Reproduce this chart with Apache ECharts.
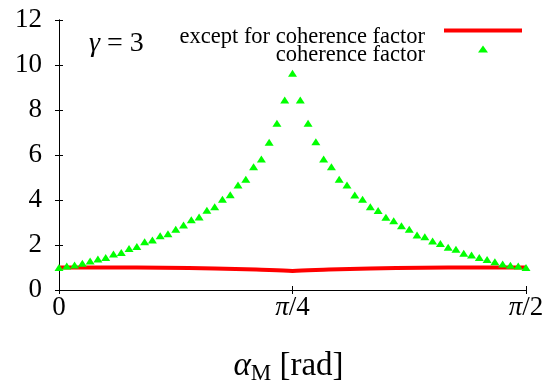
<!DOCTYPE html>
<html><head><meta charset="utf-8">
<script src="https://cdn.jsdelivr.net/npm/echarts@6/dist/echarts.min.js"></script>
<style>html,body{margin:0;padding:0;background:#fff}#c{width:553px;height:383px}</style>
</head><body><div id="c"></div>
<script>
// alpha_M in degrees (0 .. 90 = pi/2)
const alphaDeg = [0,1.5,3,4.5,6,7.5,9,10.5,12,13.5,15,16.5,18,19.5,21,22.5,24,25.5,27,28.5,30,31.5,33,34.5,36,37.5,39,40.5,42,43.5,45,46.5,48,49.5,51,52.5,54,55.5,57,58.5,60,61.5,63,64.5,66,67.5,69,70.5,72,73.5,75,76.5,78,79.5,81,82.5,84,85.5,87,88.5,90];
const coherence = [1.00,1.07,1.11,1.19,1.29,1.38,1.45,1.60,1.67,1.85,1.93,2.15,2.22,2.41,2.50,2.70,2.89,3.12,3.25,3.55,3.70,4.03,4.23,4.67,4.92,5.48,5.82,6.57,7.41,8.44,9.63,
  8.44,7.41,6.59,5.82,5.48,4.92,4.67,4.22,4.03,3.70,3.53,3.23,3.08,2.86,2.70,2.44,2.37,2.18,2.07,1.90,1.81,1.63,1.56,1.44,1.36,1.26,1.16,1.10,1.07,1.00];
const exceptAlpha = [0,10,20,30,38,45,52,60,70,80,90];
const exceptVals = [1.00,1.00,0.99,0.96,0.91,0.85,0.91,0.96,0.99,1.00,1.00];
const xTickLabels = {0:'{n|0}',45:'{p|π}{n|/4}',90:'{p|π}{n|/2}'};
const yTicks = [0,2,4,6,8,10,12];

const F = 'Liberation Serif';
const chart = echarts.init(document.getElementById('c'));
const axisLine = {show:true, lineStyle:{color:'#000', width:1}};
const tick = {show:true, inside:true, length:4, lineStyle:{color:'#000', width:1}};
const serif = {fontFamily:F, fontSize:27, color:'#000'};
chart.setOption({
  animation:false,
  backgroundColor:'#fff',
  textStyle:{fontFamily:F},
  title:{text:'{g|γ}{n| = 3}', left:89, top:30, padding:0,
    textStyle:{fontFamily:F, fontSize:28, fontWeight:'normal', color:'#000',
      rich:{g:{fontFamily:F, fontSize:28, fontStyle:'italic', color:'#000'},
            n:{fontFamily:F, fontSize:28, color:'#000'}}}},
  legend:[
    {data:[{name:'except for coherence factor', icon:'rect'}], right:31, top:26, orient:'vertical', align:'right', padding:0,
     itemWidth:78, itemHeight:4, selectedMode:false, formatter:'{t|{name}}',
     textStyle:{fontFamily:F, fontSize:22.5, color:'#000',
       rich:{t:{fontFamily:F, fontSize:22.5, color:'#000', padding:[14,14,0,0]}}}},
    {data:[{name:'coherence factor', icon:'triangle'}], right:65, top:43.5, orient:'vertical', align:'right', padding:0,
     itemWidth:10, itemHeight:7, selectedMode:false, formatter:'{t|{name}}',
     textStyle:{fontFamily:F, fontSize:22.5, color:'#000',
       rich:{t:{fontFamily:F, fontSize:22.5, color:'#000', padding:[12,48,0,0]}}}}
  ],
  grid:{left:59, right:27, top:20, bottom:93, containLabel:false, outerBoundsMode:'none'},
  xAxis:[
    {type:'value', min:0, max:90, interval:45, position:'bottom',
     axisLine, axisTick:tick, splitLine:{show:false},
     axisLabel:{margin:4, fontFamily:F, fontSize:27, color:'#000',
       formatter:v=>xTickLabels[v]!==undefined?xTickLabels[v]:'',
       rich:{p:{fontFamily:F, fontSize:27, fontStyle:'italic', color:'#000'}, n:serif}},
     name:'{a|α}{s|M}{n| [rad]}', nameLocation:'middle', nameGap:58,
     nameTextStyle:{fontFamily:F, fontSize:33, color:'#000',
       rich:{a:{fontFamily:F, fontSize:33, fontStyle:'italic', color:'#000'},
             n:{fontFamily:F, fontSize:33, color:'#000', padding:[0,8,0,0]},
             s:{fontFamily:F, fontSize:23, color:'#000', padding:[14,0,0,0], verticalAlign:'bottom'}}}},
    {type:'value', min:0, max:90, interval:45, position:'top',
     axisLine, axisTick:tick, axisLabel:{show:false}, splitLine:{show:false}}
  ],
  yAxis:[
    {type:'value', min:0, max:12, interval:2, position:'left',
     axisLine, axisTick:tick, splitLine:{show:false},
     axisLabel:{margin:17, fontFamily:F, fontSize:27, color:'#000',
       formatter:v=>yTicks.includes(v)?'{n|'+v+'}':'', rich:{n:serif}}},
    {type:'value', min:0, max:12, interval:2, position:'right',
     axisLine, axisTick:tick, axisLabel:{show:false}, splitLine:{show:false}}
  ],
  series:[
    {name:'except for coherence factor', type:'line', symbol:'none', smooth:0.3,
     data:exceptAlpha.map((a,i)=>[a,exceptVals[i]]),
     lineStyle:{color:'#ff0000', width:4}, itemStyle:{color:'#ff0000'}, z:3},
    {name:'coherence factor', type:'scatter', symbol:'triangle', symbolSize:[9,7],
     data:alphaDeg.map((a,i)=>[a,coherence[i]]),
     itemStyle:{color:'#00ff00', opacity:1}, z:4}
  ]
});
</script></body></html>
